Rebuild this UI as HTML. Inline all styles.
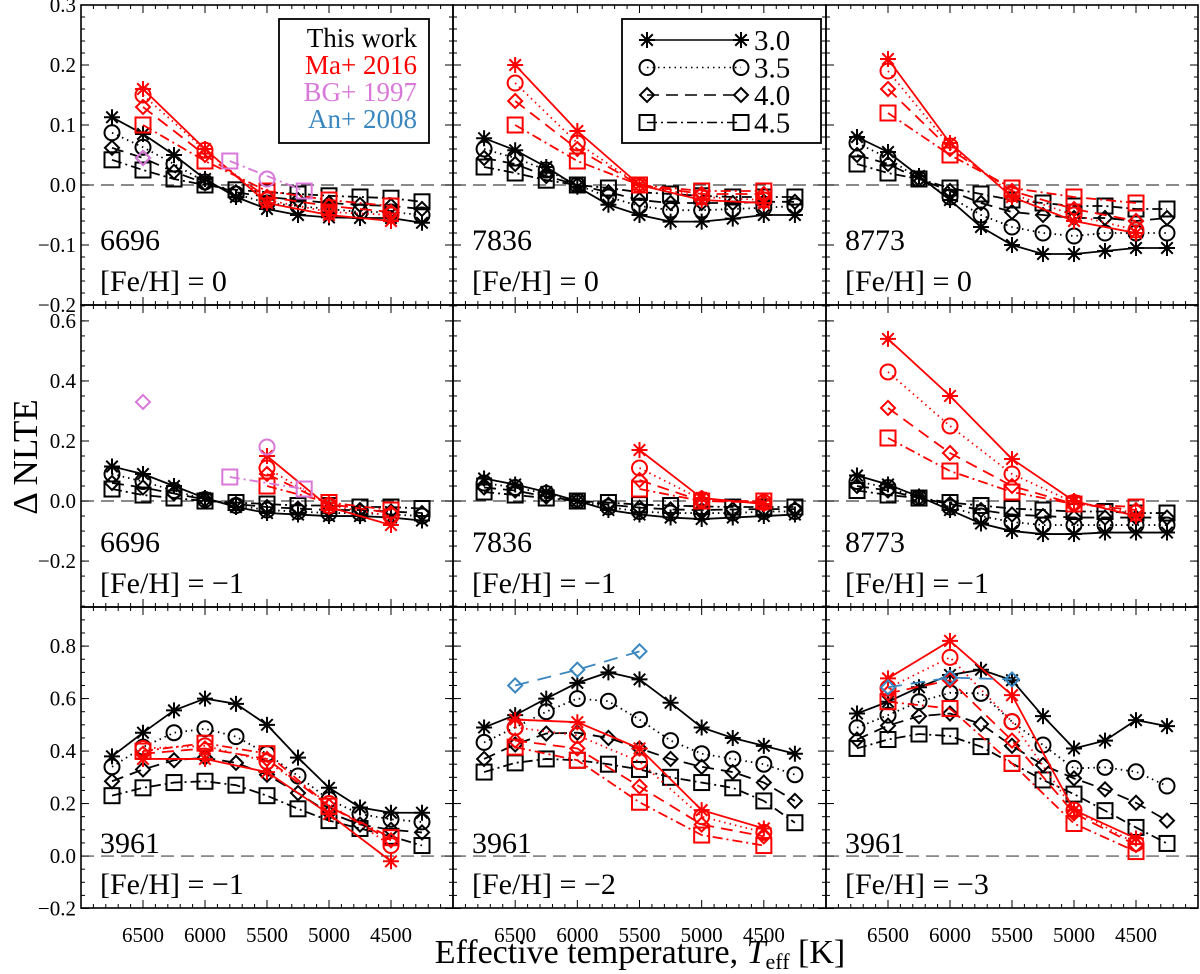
<!DOCTYPE html>
<html><head><meta charset="utf-8"><style>
html,body{margin:0;padding:0;background:#fff;}
svg{display:block;font-family:"Liberation Serif",serif;}
</style></head><body>
<svg id="chart" width="1200" height="974" viewBox="0 0 1200 974" xmlns="http://www.w3.org/2000/svg"></svg>
<script>
const temps = [6750,6500,6250,6000,5750,5500,5250,5000,4750,4500,4250];
const redTemps = [6500,6000,5500,5000,4500];
const redTempsShort = [5500,5000,4500];
const loggs = ['3.0','3.5','4.0','4.5'];
const xTicks = [6500,6000,5500,5000,4500];

const p11Black = [[0.113,0.085,0.05,0.01,-0.02,-0.04,-0.05,-0.054,-0.055,-0.055,-0.063],[0.087,0.063,0.035,0.005,-0.015,-0.03,-0.035,-0.04,-0.045,-0.045,-0.05],[0.062,0.045,0.022,0.003,-0.012,-0.02,-0.025,-0.03,-0.033,-0.035,-0.04],[0.042,0.025,0.01,0.0,-0.008,-0.012,-0.015,-0.018,-0.02,-0.022,-0.028]];
const p11Red = [[0.16,0.06,-0.03,-0.05,-0.06],[0.15,0.058,-0.025,-0.045,-0.05],[0.13,0.05,-0.02,-0.035,-0.045],[0.10,0.04,-0.01,-0.025,-0.035]];
const p12Black = [[0.078,0.058,0.03,-0.003,-0.033,-0.05,-0.061,-0.061,-0.056,-0.05,-0.05],[0.06,0.045,0.025,0,-0.02,-0.035,-0.042,-0.042,-0.04,-0.038,-0.035],[0.045,0.035,0.015,0,-0.012,-0.025,-0.03,-0.03,-0.03,-0.028,-0.028],[0.03,0.02,0.008,0,-0.005,-0.012,-0.015,-0.018,-0.02,-0.02,-0.02]];
const p12Red = [[0.2,0.09,0.0,-0.025,-0.03],[0.17,0.07,0.0,-0.02,-0.025],[0.14,0.06,0.0,-0.015,-0.015],[0.10,0.04,0.0,-0.01,-0.01]];
const p13Black = [[0.08,0.055,0.015,-0.025,-0.07,-0.1,-0.115,-0.115,-0.11,-0.105,-0.105],[0.07,0.045,0.01,-0.02,-0.05,-0.07,-0.08,-0.085,-0.08,-0.08,-0.08],[0.05,0.035,0.01,-0.01,-0.03,-0.045,-0.05,-0.055,-0.055,-0.06,-0.055],[0.035,0.02,0.01,-0.005,-0.015,-0.025,-0.03,-0.035,-0.035,-0.04,-0.04]];
const p13Red = [[0.21,0.07,-0.02,-0.06,-0.08],[0.19,0.065,-0.015,-0.05,-0.075],[0.16,0.06,-0.01,-0.04,-0.06],[0.12,0.05,-0.005,-0.02,-0.03]];
const p21Black = [[0.115,0.09,0.05,0.01,-0.02,-0.04,-0.045,-0.05,-0.05,-0.055,-0.065],[0.09,0.065,0.035,0.005,-0.015,-0.03,-0.035,-0.04,-0.04,-0.045,-0.05],[0.06,0.045,0.025,0.005,-0.01,-0.02,-0.025,-0.03,-0.03,-0.035,-0.04],[0.04,0.02,0.01,0.0,-0.005,-0.01,-0.015,-0.015,-0.02,-0.02,-0.025]];
const p21Red = [[0.15,-0.02,-0.08],[0.11,-0.015,-0.05],[0.09,-0.01,-0.04],[0.05,-0.005,-0.03]];
const p22Black = [[0.075,0.055,0.03,0,-0.03,-0.045,-0.055,-0.06,-0.055,-0.05,-0.045],[0.06,0.045,0.025,0,-0.02,-0.035,-0.04,-0.04,-0.04,-0.035,-0.035],[0.045,0.035,0.015,0,-0.012,-0.022,-0.028,-0.03,-0.028,-0.027,-0.027],[0.03,0.02,0.01,0,-0.005,-0.012,-0.015,-0.018,-0.02,-0.02,-0.02]];
const p22Red = [[0.17,0.01,-0.01],[0.11,0.005,-0.005],[0.07,0.0,-0.005],[0.04,0.0,0.0]];
const p23Black = [[0.085,0.055,0.015,-0.03,-0.075,-0.1,-0.11,-0.11,-0.105,-0.105,-0.105],[0.065,0.045,0.01,-0.02,-0.05,-0.07,-0.08,-0.08,-0.08,-0.08,-0.08],[0.05,0.035,0.01,-0.01,-0.03,-0.045,-0.05,-0.055,-0.055,-0.055,-0.055],[0.035,0.02,0.01,-0.005,-0.015,-0.025,-0.03,-0.035,-0.035,-0.04,-0.04]];
const p23Red = [[0.54,0.35,0.14,0.0,-0.05],[0.43,0.25,0.09,-0.005,-0.04],[0.31,0.16,0.05,-0.01,-0.03],[0.21,0.10,0.03,-0.01,-0.02]];
const p31Black = [[0.38,0.47,0.555,0.60,0.58,0.50,0.375,0.26,0.185,0.165,0.165],[0.34,0.415,0.47,0.485,0.455,0.39,0.305,0.215,0.16,0.14,0.13],[0.285,0.33,0.365,0.375,0.355,0.31,0.24,0.165,0.12,0.10,0.09],[0.23,0.26,0.28,0.285,0.27,0.23,0.18,0.135,0.105,0.075,0.04]];
const p31Red = [[0.37,0.37,0.32,0.16,-0.02],[0.41,0.42,0.36,0.2,0.04],[0.39,0.41,0.37,0.19,0.06],[0.4,0.43,0.39,0.19,0.07]];
const p32Black = [[0.49,0.537,0.60,0.66,0.70,0.673,0.584,0.49,0.45,0.42,0.39],[0.433,0.49,0.55,0.6,0.59,0.52,0.44,0.39,0.37,0.35,0.31],[0.37,0.425,0.467,0.47,0.45,0.41,0.37,0.34,0.32,0.28,0.21],[0.32,0.355,0.37,0.365,0.35,0.33,0.30,0.28,0.26,0.21,0.127]];
const p32Red = [[0.52,0.51,0.41,0.175,0.105],[0.49,0.46,0.36,0.15,0.09],[0.44,0.41,0.265,0.12,0.075],[0.415,0.365,0.205,0.08,0.04]];
const p33Black = [[0.543,0.588,0.643,0.69,0.71,0.67,0.533,0.41,0.44,0.518,0.495],[0.489,0.537,0.588,0.622,0.62,0.512,0.423,0.334,0.338,0.321,0.267],[0.444,0.497,0.533,0.543,0.503,0.42,0.347,0.296,0.254,0.203,0.135],[0.41,0.444,0.465,0.457,0.417,0.353,0.29,0.236,0.173,0.109,0.048]];
const p33Red = [[0.677,0.82,0.613,0.175,0.067],[0.64,0.757,0.512,0.175,0.048],[0.62,0.67,0.44,0.163,0.042],[0.588,0.562,0.353,0.124,0.017]];
const bgTemps11 = [5800,5200]; const bgSq11 = [0.04,-0.01];
const bgCirc11 = [[5500,0.01]]; const bgDia11 = [[6500,0.045]];
const bgTemps21 = [5800,5200]; const bgSq21 = [0.08,0.04];
const bgCirc21 = [[5500,0.18]]; const bgDia21 = [[6500,0.33]];
const anTemps32 = [6500,6000,5500]; const anDia32 = [0.65,0.71,0.78];
const anTemps33 = [6500,6000,5500]; const anDia33 = [0.643,0.68,0.673];

const rowTicks = [[-0.2,-0.1,0,0.1,0.2,0.3],[-0.2,0,0.2,0.4,0.6],[-0.2,0,0.2,0.4,0.6,0.8]];

const svg = document.getElementById('chart');
const NS = 'http://www.w3.org/2000/svg';
function mk(tag, attrs, parent){const e=document.createElementNS(NS,tag);for(const k in attrs)e.setAttribute(k,attrs[k]);(parent||svg).appendChild(e);return e;}

const colX = [81,453,826], colW = [372,373,372];
const rows = [{y0:5,y1:305,lo:-0.2,hi:0.3,minor:0.02},{y0:305,y1:607,lo:-0.353,hi:0.653,minor:0.05},{y0:607,y1:908,lo:-0.198,hi:0.949,minor:0.05}];
const dashes = ['', '1.5,4', '12,7', '10,4,2,4'];
const markers = ['star','circle','diamond','square'];
const fmt = v => (v<0?'\u2212':'') + Math.abs(v).toFixed(1);

function marker(g, type, x, y, color){
  const a={stroke:color,'stroke-width':2,fill:'none'};
  let m;
  if(type==='star'){
    const r=8, d=r*0.72;
    m=mk('path',Object.assign({d:`M${x-r},${y}H${x+r}M${x},${y-r}V${y+r}M${x-d},${y-d}L${x+d},${y+d}M${x-d},${y+d}L${x+d},${y-d}`},a),g);
  } else if(type==='circle'){ m=mk('circle',Object.assign({cx:x,cy:y,r:7.5},a),g); }
  else if(type==='diamond'){ m=mk('path',Object.assign({d:`M${x},${y-7}L${x+7},${y}L${x},${y+7}L${x-7},${y}Z`},a),g); }
  else { m=mk('rect',Object.assign({x:x-7.5,y:y-7.5,width:15,height:15},a),g); }
  
  
}
function series(g, xs, ys, sx, sy, type, dash, color, name){
  const sg = mk('g',{},g);
  
  
  const pts = xs.map((t,i)=>sx(t)+','+sy(ys[i])).join(' ');
  if(xs.length>1){
    const pl = mk('polyline',{points:pts,fill:'none',stroke:color,'stroke-width':1.8,'stroke-dasharray':dash},sg);
    
    
  }
  xs.forEach((t,i)=>marker(sg,type,sx(t),sy(ys[i]),color));
}

const panels = [
 {r:0,c:0,black:p11Black,red:p11Red,rt:redTemps,label:'6696',feh:'0'},
 {r:0,c:1,black:p12Black,red:p12Red,rt:redTemps,label:'7836',feh:'0'},
 {r:0,c:2,black:p13Black,red:p13Red,rt:redTemps,label:'8773',feh:'0'},
 {r:1,c:0,black:p21Black,red:p21Red,rt:redTempsShort,label:'6696',feh:'\u22121'},
 {r:1,c:1,black:p22Black,red:p22Red,rt:redTempsShort,label:'7836',feh:'\u22121'},
 {r:1,c:2,black:p23Black,red:p23Red,rt:redTemps,label:'8773',feh:'\u22121'},
 {r:2,c:0,black:p31Black,red:p31Red,rt:redTemps,label:'3961',feh:'\u22121'},
 {r:2,c:1,black:p32Black,red:p32Red,rt:redTemps,label:'3961',feh:'\u22122'},
 {r:2,c:2,black:p33Black,red:p33Red,rt:redTemps,label:'3961',feh:'\u22123'}
];

panels.forEach(p=>{
  const R=rows[p.r], x0=colX[p.c], w=colW[p.c], x1=x0+w;
  const sx = t => x0 + (7000-t)/3000*w;
  const sy = v => R.y1 - (v-R.lo)/(R.hi-R.lo)*(R.y1-R.y0);
  const g = mk('g',{});
  
  
  const z = mk('line',{x1:x0,x2:x1,y1:sy(0),y2:sy(0),stroke:'#444','stroke-width':1.2,'stroke-dasharray':'13,7'},g);
  
  
  const tg = mk('g',{stroke:'#000','stroke-width':1},g);
  
  
  for(let t=7000;t>=4000;t-=100){
    const X=sx(t), L=(t%500===0)?8:4;
    mk('line',{x1:X,x2:X,y1:R.y1,y2:R.y1-L},tg);
    mk('line',{x1:X,x2:X,y1:R.y0,y2:R.y0+L},tg);
  }
  for(let v=Math.ceil(R.lo/R.minor)*R.minor; v<=R.hi+1e-9; v+=R.minor){
    const Y=sy(v);
    mk('line',{x1:x0,x2:x0+4,y1:Y,y2:Y},tg);
    mk('line',{x1:x1,x2:x1-4,y1:Y,y2:Y},tg);
  }
  rowTicks[p.r].forEach(v=>{
    const Y=sy(v);
    mk('line',{x1:x0,x2:x0+8,y1:Y,y2:Y},tg);
    mk('line',{x1:x1,x2:x1-8,y1:Y,y2:Y},tg);
    if(p.c===0){
      const tl=mk('text',{x:x0-5,y:Y+7,'text-anchor':'end','font-size':21},svg);
      tl.textContent=fmt(v);
      
      
    }
  });
  if(p.r===2){
    xTicks.forEach(t=>{
      const tl=mk('text',{x:sx(t),y:R.y1+34,'text-anchor':'middle','font-size':21},svg);
      tl.textContent=t;
      
      
    });
  }
  p.black.forEach((ys,i)=>series(g,temps,ys,sx,sy,markers[i],dashes[i],'#000','this-work-logg-'+loggs[i]));
  p.red.forEach((ys,i)=>series(g,p.rt,ys,sx,sy,markers[i],dashes[i],'#f00','ma2016-logg-'+loggs[i]));
  const pink='#d878d8', blue='#3a87c0';
  if(p.r===0&&p.c===0){
    series(g,bgTemps11,bgSq11,sx,sy,'square','10,4,2,4',pink,'bg1997-square');
    bgCirc11.forEach(d=>series(g,[d[0]],[d[1]],sx,sy,'circle','',pink,'bg1997-circle'));
    bgDia11.forEach(d=>series(g,[d[0]],[d[1]],sx,sy,'diamond','',pink,'bg1997-diamond'));
  }
  if(p.r===1&&p.c===0){
    series(g,bgTemps21,bgSq21,sx,sy,'square','10,4,2,4',pink,'bg1997-square');
    bgCirc21.forEach(d=>series(g,[d[0]],[d[1]],sx,sy,'circle','',pink,'bg1997-circle'));
    bgDia21.forEach(d=>series(g,[d[0]],[d[1]],sx,sy,'diamond','',pink,'bg1997-diamond'));
  }
  if(p.r===2&&p.c===1) series(g,anTemps32,anDia32,sx,sy,'diamond','14,9',blue,'an2008-diamond');
  if(p.r===2&&p.c===2) series(g,anTemps33,anDia33,sx,sy,'diamond','14,9',blue,'an2008-diamond');
  const fr = mk('rect',{x:x0,y:R.y0,width:w,height:R.y1-R.y0,fill:'none',stroke:'#000','stroke-width':1.6},g);
  
  
  const l1 = mk('text',{x:x0+19,y:R.y1-55,'font-size':30},g);
  l1.textContent=p.label;
  
  
  const l2 = mk('text',{x:x0+19,y:R.y1-14,'font-size':30},g);
  l2.textContent='[Fe/H] = '+p.feh;
  
  
});

const lg1 = mk('g',{});


mk('rect',{x:279,y:19,width:150,height:124,fill:'#fff',stroke:'#000','stroke-width':1.8},lg1);
[['This work','#000'],['Ma+ 2016','#f00'],['BG+ 1997','#d878d8'],['An+ 2008','#3a87c0']].forEach((e,i)=>{
  const t=mk('text',{x:417,y:47+i*27,'text-anchor':'end','font-size':27,fill:e[1]},lg1);
  t.textContent=e[0];
  
  
});
const lg2 = mk('g',{});


mk('rect',{x:622,y:19,width:199,height:124,fill:'#fff',stroke:'#000','stroke-width':1.8},lg2);
loggs.forEach((lbl,i)=>{
  const Y=40+i*27.5;
  const eg=mk('g',{},lg2);
  
  
  mk('line',{x1:647,x2:741,y1:Y,y2:Y,stroke:'#000','stroke-width':1.6,'stroke-dasharray':dashes[i]},eg);
  marker(eg,markers[i],647,Y,'#000');
  marker(eg,markers[i],741,Y,'#000');
  const t=mk('text',{x:754,y:Y+10,'font-size':29},eg);
  t.textContent=lbl;
});

const xt = mk('text',{x:640,y:963,'text-anchor':'middle','font-size':34});
xt.innerHTML='Effective temperature, <tspan font-style="italic">T</tspan><tspan font-size="22" dy="6">eff</tspan><tspan dy="-6"> [K]</tspan>';


const yt = mk('text',{x:0,y:0,'text-anchor':'middle','font-size':35,transform:'translate(37,457) rotate(-90)'});
yt.textContent='\u0394 NLTE';


</script>
</body></html>
